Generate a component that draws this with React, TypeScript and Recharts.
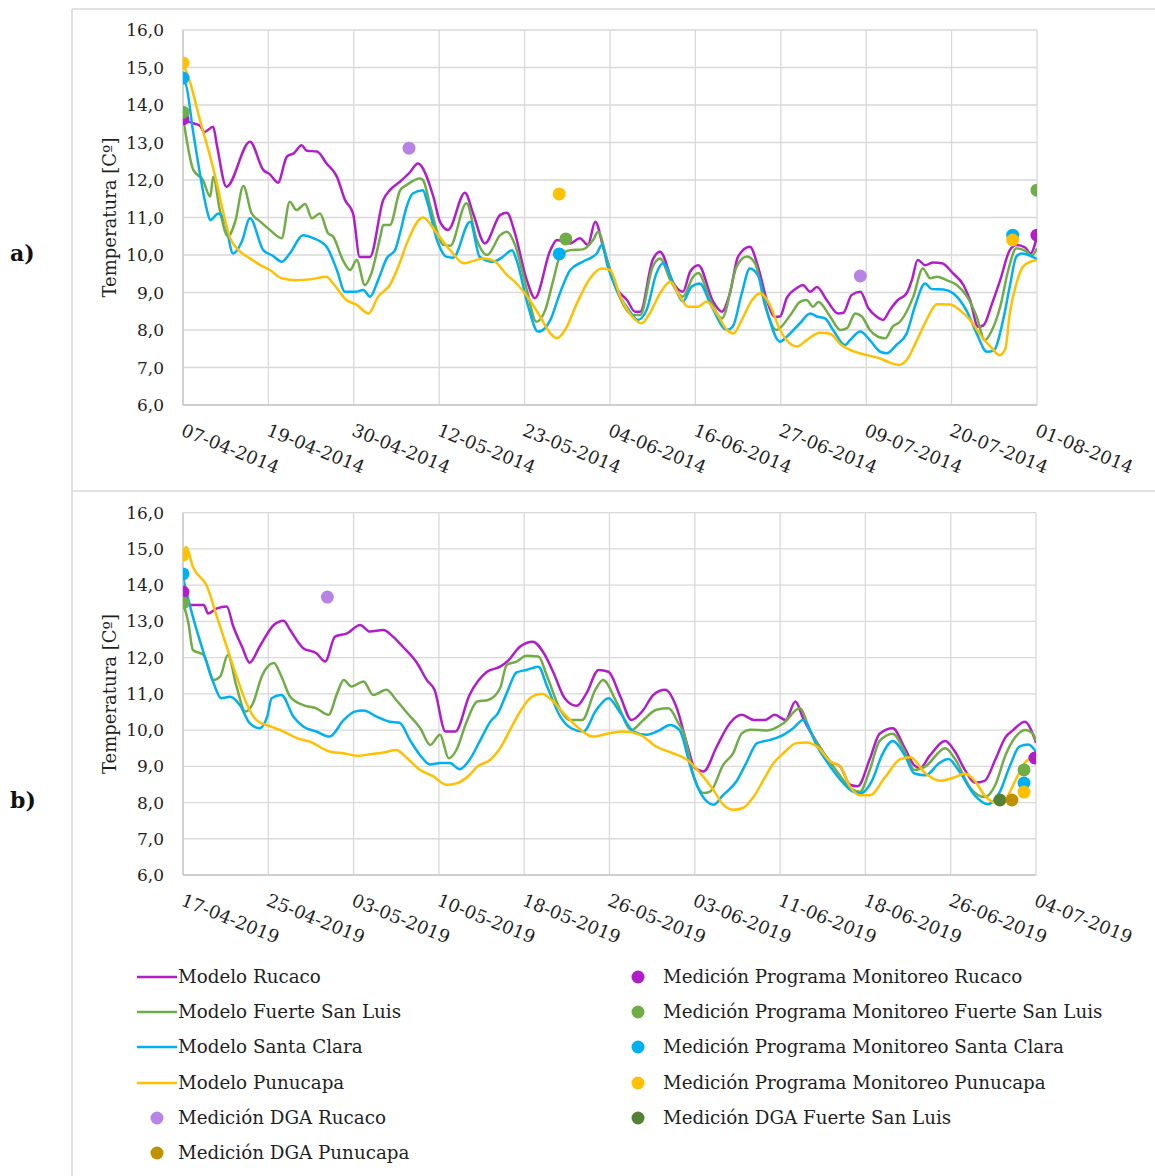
import React from 'react';
import { ComposedChart, Line, Scatter, XAxis, YAxis, CartesianGrid } from 'recharts';

type Pt = [number, number];

const FONT = '"DejaVu Serif", serif';
const INK = '#1f1f1f';

const C_RUCACO = '#B11DCB';
const C_FUERTE = '#70AD47';
const C_CLARA = '#00B0F0';
const C_PUNU = '#FFC000';
const C_DGA_RUCACO = '#B784E6';
const C_DGA_FUERTE = '#548235';
const C_DGA_PUNU = '#BF9000';

const yTicks = [6, 7, 8, 9, 10, 11, 12, 13, 14, 15, 16];

// ---------- a) days since 07-04-2014
const ticksA = [0, 11.6, 23.2, 34.8, 46.4, 58, 69.6, 81.2, 92.8, 104.4, 116];
const tickLabelsA = ['07-04-2014', '19-04-2014', '30-04-2014', '12-05-2014', '23-05-2014', '04-06-2014', '16-06-2014', '27-06-2014', '09-07-2014', '20-07-2014', '01-08-2014'];

const rucacoA: Pt[] = [[0,13.6],[1.6,13.5],[2.3,13.45],[2.9,13.28],[4.1,13.42],[4.6,12.93],[5.9,11.82],[9.1,13.02],[10.9,12.27],[11.8,12.15],[12.9,11.93],[14.1,12.62],[15.1,12.72],[16.1,12.93],[16.8,12.78],[18.2,12.76],[19.5,12.44],[20.9,12.09],[22.0,11.47],[23.1,11.11],[24.0,9.95],[25.4,9.95],[27.2,11.47],[28.1,11.73],[29.5,11.96],[30.8,12.2],[31.9,12.44],[34.0,11.56],[34.9,10.89],[36.0,10.67],[38.3,11.66],[39.4,11.11],[41.0,10.31],[43.1,11.07],[44.0,11.13],[45.1,10.57],[46.7,9.33],[47.8,8.85],[49.9,10.13],[50.8,10.4],[52.6,10.31],[53.9,10.45],[55.0,10.27],[56.0,10.89],[57.1,10.19],[58.9,9.11],[60.3,8.8],[61.4,8.49],[62.1,8.49],[63.8,9.87],[64.8,10.09],[66.6,9.25],[67.9,9.02],[68.9,9.56],[70.0,9.73],[72.0,8.76],[73.2,8.49],[74.3,8.99],[75.4,9.96],[77.0,10.22],[78.1,9.69],[79.3,8.8],[80.4,8.35],[81.1,8.36],[82.0,8.85],[83.4,9.12],[84.2,9.2],[85.2,9.02],[86.1,9.15],[87.5,8.78],[89.0,8.44],[89.7,8.46],[90.8,8.93],[92.0,9.02],[93.1,8.58],[94.2,8.36],[95.1,8.27],[96.0,8.53],[97.1,8.8],[98.3,8.98],[99.0,9.33],[99.8,9.87],[100.8,9.73],[101.9,9.8],[103.1,9.78],[104.6,9.51],[106.0,9.2],[106.9,8.8],[108.0,8.09],[108.7,8.12],[109.9,8.71],[111.0,9.33],[112.3,10.13],[113.2,10.27],[114.4,10.2],[115.1,10.04],[116,10.49]];
const fuerteA: Pt[] = [[0,13.7],[0.5,13.07],[1.4,12.27],[2.7,12.0],[3.7,11.56],[4.1,12.09],[5.0,11.2],[6.1,10.5],[7.1,10.9],[8.2,11.84],[9.3,11.12],[10.5,10.89],[11.8,10.67],[13.4,10.45],[14.5,11.42],[15.4,11.2],[16.6,11.36],[17.5,10.98],[18.6,11.11],[19.7,10.58],[20.4,10.49],[21.7,9.87],[22.7,9.6],[23.6,9.87],[24.7,9.2],[25.6,9.52],[26.8,10.49],[27.2,10.8],[28.1,10.8],[29.5,11.73],[30.4,11.87],[32.2,12.04],[32.6,12.0],[33.6,11.29],[34.6,10.57],[35.3,10.27],[36.3,10.25],[38.5,11.38],[39.9,10.4],[41.3,10.0],[43.1,10.53],[44.0,10.62],[45.1,10.27],[46.7,9.07],[48.0,8.22],[49.2,8.53],[50.3,9.33],[51.2,9.96],[52.6,10.13],[54.3,10.15],[55.7,10.4],[56.4,10.62],[57.6,9.87],[58.9,9.07],[61.1,8.4],[62.1,8.4],[63.8,9.69],[64.8,9.91],[66.2,9.33],[67.9,8.89],[69.3,9.42],[70.0,9.52],[71.6,8.8],[73.2,8.31],[75.2,9.69],[76.6,9.96],[77.7,9.78],[79.1,8.62],[80.6,8.0],[82.5,8.4],[83.8,8.75],[84.7,8.8],[85.6,8.62],[86.3,8.75],[87.9,8.36],[89.3,8.0],[90.2,8.05],[91.3,8.44],[92.2,8.36],[93.3,8.0],[94.4,7.82],[95.4,7.78],[96.4,8.09],[97.4,8.22],[99.2,8.89],[100.5,9.64],[101.5,9.38],[102.4,9.42],[103.7,9.33],[105.1,9.2],[106.5,8.89],[107.8,8.36],[108.9,7.73],[109.9,8.0],[111.0,8.62],[112.1,9.6],[113.2,10.18],[114.6,10.09],[115.3,9.98],[116,10.18]];
const santaClaraA: Pt[] = [[0,14.6],[0.3,14.58],[1.4,13.25],[2.3,12.17],[3.2,11.24],[3.7,10.93],[4.8,11.11],[5.7,10.89],[6.8,10.04],[8.0,10.36],[9.1,10.98],[10.9,10.13],[12.2,9.98],[13.4,9.82],[14.5,10.04],[16.3,10.53],[17.7,10.45],[19.5,10.22],[20.9,9.6],[22.0,9.02],[23.4,9.02],[24.5,9.07],[25.4,8.89],[26.5,9.33],[27.7,9.92],[28.8,10.13],[29.5,10.6],[30.4,11.3],[31.2,11.64],[32.6,11.73],[33.1,11.47],[34.5,10.4],[35.8,9.95],[36.7,9.93],[39.0,10.89],[40.3,9.95],[42.1,9.82],[43.5,9.96],[44.7,10.13],[45.3,9.87],[46.9,8.62],[48.2,7.96],[48.7,7.98],[49.9,8.27],[51.2,8.98],[52.6,9.6],[54.3,9.82],[56.2,10.04],[56.9,10.27],[57.7,9.69],[58.9,9.07],[60.7,8.49],[61.8,8.27],[63.0,8.55],[64.3,9.51],[65.2,9.78],[66.6,9.25],[67.9,8.76],[69.1,9.16],[70.2,9.24],[71.6,8.71],[73.9,8.0],[74.7,8.1],[75.9,8.98],[77.0,9.64],[78.2,9.42],[79.3,8.53],[81.1,7.69],[82.0,7.82],[83.8,8.18],[85.2,8.44],[86.1,8.36],[87.2,8.31],[88.3,8.0],[89.9,7.6],[90.6,7.73],[92.0,7.96],[93.3,7.73],[94.7,7.42],[95.6,7.38],[96.9,7.6],[98.3,7.91],[99.4,8.62],[100.8,9.24],[101.7,9.09],[103.3,9.08],[104.6,8.98],[106.5,8.49],[107.8,7.91],[109.2,7.42],[110.1,7.45],[111.4,8.27],[112.3,9.16],[113.2,9.96],[113.9,10.04],[115.1,9.98],[116,9.89]];
const punucapaA: Pt[] = [[0,15.1],[1.0,14.58],[2.3,13.6],[3.7,12.62],[4.6,11.91],[5.5,11.11],[6.4,10.45],[7.3,10.18],[9.1,9.91],[10.5,9.73],[11.8,9.6],[13.4,9.38],[15.4,9.33],[17.3,9.35],[19.5,9.42],[20.4,9.24],[22.2,8.8],[23.6,8.67],[25.2,8.44],[26.5,8.89],[28.1,9.2],[29.5,9.82],[30.4,10.31],[32.6,11.0],[34.5,10.57],[36.3,10.13],[38.1,9.78],[40.8,9.91],[42.2,9.85],[44.0,9.47],[45.3,9.24],[47.1,8.8],[48.5,8.36],[49.9,7.91],[50.8,7.78],[51.9,8.0],[53.5,8.71],[55.3,9.38],[56.9,9.64],[58.0,9.6],[59.4,8.89],[61.0,8.36],[62.3,8.18],[63.4,8.44],[64.8,8.98],[66.2,9.29],[67.5,8.89],[68.6,8.62],[70.0,8.62],[71.1,8.76],[72.5,8.44],[73.9,8.0],[74.8,7.91],[75.9,8.27],[77.3,8.8],[78.4,8.98],[79.7,8.67],[81.1,8.0],[83.4,7.56],[84.7,7.73],[86.5,7.93],[87.9,7.9],[89.3,7.62],[90.6,7.47],[92.9,7.33],[94.7,7.24],[96.0,7.13],[97.2,7.07],[98.3,7.2],[99.7,7.73],[101.0,8.27],[102.4,8.69],[104.2,8.68],[105.5,8.53],[106.9,8.27],[108.5,7.82],[109.9,7.51],[110.9,7.33],[111.7,7.5],[112.3,8.44],[113.2,9.24],[114.1,9.69],[115.1,9.82],[116,9.87]];

const dgaRucacoA: Pt[] = [[30.7,12.85],[92.0,9.44]];
const pmRucacoA: Pt[] = [[0,13.63],[116,10.53]];
const pmFuerteA: Pt[] = [[0,13.81],[52.0,10.43],[116,11.73]];
const pmClaraA: Pt[] = [[0,14.72],[51.1,10.03],[112.7,10.53]];
const pmPunuA: Pt[] = [[0,15.12],[51.1,11.63],[112.7,10.4]];

// ---------- b) days since 17-04-2019
const ticksB = [0, 7.8, 15.6, 23.4, 31.2, 39, 46.8, 54.6, 62.4, 70.2, 78];
const tickLabelsB = ['17-04-2019', '25-04-2019', '03-05-2019', '10-05-2019', '18-05-2019', '26-05-2019', '03-06-2019', '11-06-2019', '18-06-2019', '26-06-2019', '04-07-2019'];

const rucacoB: Pt[] = [[0,13.45],[1.9,13.45],[2.3,13.22],[3.1,13.36],[4.0,13.41],[4.6,12.86],[5.4,12.3],[6.1,11.86],[7.0,12.3],[8.3,12.9],[9.2,13.02],[9.8,12.76],[11.0,12.26],[12.2,12.12],[13.0,11.89],[13.9,12.58],[15.0,12.67],[16.2,12.9],[17.1,12.72],[18.3,12.76],[19.2,12.58],[20.1,12.3],[21.4,11.85],[22.3,11.38],[23.0,11.11],[24.0,9.96],[24.9,9.96],[26.2,10.97],[27.8,11.61],[29.0,11.75],[29.8,11.94],[30.8,12.3],[32.0,12.44],[33.0,12.12],[33.9,11.57],[34.9,10.88],[36.0,10.67],[36.9,11.02],[38.0,11.66],[38.9,11.61],[40.0,10.92],[41.0,10.28],[42.1,10.56],[43.0,10.97],[44.1,11.11],[45.1,10.65],[46.1,9.6],[46.8,8.95],[47.6,8.86],[48.8,9.54],[50.0,10.19],[51.1,10.42],[52.2,10.28],[53.2,10.28],[54.1,10.42],[55.1,10.28],[56.0,10.79],[56.7,10.33],[58.0,9.64],[59.2,9.13],[60.1,8.99],[61.0,8.49],[61.7,8.45],[62.8,9.2],[63.7,9.9],[64.9,10.05],[66.0,9.5],[66.8,9.05],[67.4,8.95],[68.3,9.3],[69.7,9.7],[70.6,9.4],[71.5,8.9],[72.4,8.55],[73.3,8.6],[74.3,9.2],[75.2,9.8],[75.9,10.0],[77.0,10.23],[77.7,9.9],[78,9.65]];
const fuerteB: Pt[] = [[0,13.5],[0.5,12.95],[0.9,12.21],[1.9,12.07],[2.8,11.38],[3.4,11.48],[4.1,12.07],[4.9,11.2],[5.7,10.51],[6.4,10.74],[7.2,11.48],[8.3,11.85],[9.0,11.48],[9.8,10.92],[11.0,10.69],[12.2,10.6],[13.3,10.42],[14.1,11.02],[14.7,11.38],[15.4,11.2],[16.5,11.34],[17.4,10.97],[18.6,11.11],[19.5,10.83],[20.5,10.47],[21.7,10.05],[22.6,9.59],[23.5,9.87],[24.3,9.22],[25.0,9.45],[25.9,10.2],[26.9,10.79],[27.9,10.83],[29.0,11.16],[29.6,11.8],[30.5,11.89],[31.4,12.05],[32.5,12.03],[33.3,11.48],[34.5,10.56],[35.4,10.28],[36.5,10.28],[37.7,11.11],[38.4,11.38],[39.7,10.74],[41.0,10.0],[42.1,10.28],[43.3,10.56],[44.4,10.6],[45.3,10.19],[45.8,9.91],[46.7,8.72],[47.6,8.26],[48.2,8.3],[49.4,9.04],[50.3,9.36],[51.1,9.91],[51.9,10.01],[53.4,9.99],[54.9,10.19],[56.4,10.6],[57.3,10.01],[58.6,9.36],[59.8,8.86],[61.0,8.4],[61.9,8.3],[62.8,8.9],[63.7,9.7],[64.9,9.9],[66.0,9.4],[66.9,8.9],[67.9,9.0],[69.7,9.5],[70.6,9.2],[72.0,8.4],[73.3,8.15],[74.3,8.5],[75.2,9.3],[76.1,9.8],[77.0,10.0],[77.7,9.9],[78,9.7]];
const santaClaraB: Pt[] = [[0,14.2],[0.9,13.13],[1.9,12.12],[2.8,11.29],[3.5,10.88],[4.3,10.92],[5.2,10.69],[6.1,10.19],[7.0,10.05],[7.7,10.37],[8.1,10.88],[9.0,10.97],[10.1,10.37],[11.0,10.1],[12.2,9.96],[13.4,9.82],[14.7,10.28],[15.7,10.51],[16.5,10.54],[17.7,10.37],[18.9,10.23],[19.8,10.2],[20.8,9.7],[21.7,9.3],[22.6,9.05],[23.5,9.09],[24.4,9.09],[25.3,8.92],[26.2,9.18],[27.2,9.73],[28.1,10.23],[28.8,10.47],[29.6,11.02],[30.5,11.59],[31.4,11.66],[32.5,11.75],[33.3,11.2],[34.5,10.37],[35.5,10.05],[36.6,9.96],[37.8,10.56],[38.9,10.88],[40.0,10.47],[41.2,9.96],[42.4,9.87],[43.6,10.0],[44.5,10.14],[45.4,10.0],[46.4,8.99],[47.1,8.4],[47.9,8.03],[48.5,7.94],[49.4,8.21],[50.6,8.58],[51.5,9.09],[52.5,9.64],[53.7,9.73],[54.9,9.87],[55.8,10.05],[56.7,10.28],[58.0,9.54],[59.2,8.99],[60.4,8.53],[61.0,8.35],[61.9,8.25],[63.0,8.6],[63.9,9.3],[64.9,9.7],[66.0,9.3],[66.9,8.8],[67.9,8.75],[69.2,9.1],[70.0,9.2],[70.9,8.9],[72.4,8.2],[73.6,7.95],[74.7,8.3],[75.6,9.0],[76.5,9.55],[77.3,9.6],[78,9.4]];
const punucapaB: Pt[] = [[0,14.9],[0.3,15.05],[0.9,14.51],[2.2,13.96],[3.1,13.13],[4.0,12.3],[4.9,11.48],[5.8,10.74],[6.7,10.28],[8.0,10.1],[9.2,9.96],[10.4,9.78],[11.6,9.68],[13.4,9.41],[14.7,9.36],[15.9,9.29],[17.1,9.33],[18.3,9.38],[19.5,9.45],[20.5,9.22],[21.7,8.9],[22.9,8.72],[24.1,8.49],[25.0,8.53],[26.2,8.76],[26.9,8.99],[28.1,9.18],[29.0,9.5],[29.9,10.0],[30.8,10.5],[31.9,10.92],[32.8,11.0],[33.7,10.83],[34.8,10.47],[36.0,10.1],[37.5,9.82],[39.0,9.91],[40.3,9.96],[41.8,9.87],[43.3,9.54],[44.8,9.36],[46.1,9.18],[47.3,8.81],[48.5,8.35],[49.4,7.94],[50.3,7.8],[51.2,7.85],[52.2,8.17],[53.1,8.63],[54.0,9.09],[54.9,9.36],[56.1,9.64],[57.0,9.66],[58.0,9.54],[59.2,9.13],[60.1,8.99],[61.0,8.44],[61.9,8.2],[62.8,8.2],[64.2,8.7],[65.6,9.2],[66.5,9.25],[67.9,8.8],[69.2,8.6],[70.6,8.7],[71.5,8.8],[72.4,8.6],[73.3,8.2],[74.3,8.0],[75.2,8.1],[76.1,8.6],[77.0,9.1],[78,9.3]];

const dgaRucacoB: Pt[] = [[13.2,13.67]];
const pmRucacoB: Pt[] = [[0,13.81],[77.9,9.23]];
const pmFuerteB: Pt[] = [[0,13.51],[76.9,8.9]];
const pmClaraB: Pt[] = [[0,14.31],[76.9,8.54]];
const pmPunuB: Pt[] = [[0,14.83],[76.9,8.29]];
const dgaFuerteB: Pt[] = [[74.7,8.07]];
const dgaPunuB: Pt[] = [[75.8,8.07]];

const toRows = (pts: Pt[]) => pts.map(([d, v]) => ({ d, v }));
const fmt = (v: number) => v.toFixed(1).replace('.', ',');

function DateTick(props: any) {
  const { x, y, payload, labels, ticks } = props;
  const i = ticks.findIndex((t: number) => Math.abs(t - payload.value) < 1e-6);
  return (
    <g transform={`translate(${x - 3},${y + 22}) rotate(22)`}>
      <text x={0} y={0} fontFamily={FONT} fontSize={18} fill={INK}>
        {labels[i]}
      </text>
    </g>
  );
}

interface Series { pts: Pt[]; color: string }

function Panel(props: {
  top: number; height: number; plotTop: number; plotBottom: number; plotRight: number;
  maxDay: number; ticks: number[]; labels: string[]; lines: Series[]; dots: Series[];
}) {
  const { top, height, plotTop, plotBottom, plotRight, maxDay, ticks, labels, lines, dots } = props;
  return (
    <div style={{ position: 'absolute', left: 72, top }}>
      <ComposedChart
        width={1083}
        height={height}
        margin={{ top: plotTop - top, right: 1155 - plotRight, left: 41, bottom: top + height - plotBottom - 50 }}
      >
        <CartesianGrid stroke="#d9d9d9" strokeWidth={1.3} />
        <XAxis
          type="number"
          dataKey="d"
          domain={[0, maxDay]}
          ticks={ticks}
          interval={0}
          height={50}
          allowDataOverflow
          tickLine={false}
          axisLine={{ stroke: '#c8c8c8', strokeWidth: 1.3 }}
          tick={(p: any) => <DateTick {...p} labels={labels} ticks={ticks} />}
        />
        <YAxis
          type="number"
          dataKey="v"
          domain={[6, 16]}
          ticks={yTicks}
          interval={0}
          width={70}
          allowDataOverflow
          tickLine={false}
          tickMargin={13}
          axisLine={{ stroke: '#c8c8c8', strokeWidth: 1.3 }}
          tick={{ fontFamily: FONT, fontSize: 17, fill: INK }}
          tickFormatter={fmt}
        />
        {lines.map((s, i) => (
          <Line
            key={'l' + i}
            data={toRows(s.pts)}
            dataKey="v"
            type="monotone"
            stroke={s.color}
            strokeWidth={2.5}
            dot={false}
            activeDot={false}
            isAnimationActive={false}
          />
        ))}
        {dots.map((s, i) => (
          <Scatter
            key={'s' + i}
            data={toRows(s.pts)}
            dataKey="v"
            fill={s.color}
            isAnimationActive={false}
            shape={(p: any) => <circle cx={p.cx} cy={p.cy} r={6.5} fill={s.color} />}
          />
        ))}
      </ComposedChart>
    </div>
  );
}

const legendLeft: { label: string; color: string; kind: 'line' | 'dot' }[] = [
  { label: 'Modelo Rucaco', color: C_RUCACO, kind: 'line' },
  { label: 'Modelo Fuerte San Luis', color: C_FUERTE, kind: 'line' },
  { label: 'Modelo Santa Clara', color: C_CLARA, kind: 'line' },
  { label: 'Modelo Punucapa', color: C_PUNU, kind: 'line' },
  { label: 'Medición DGA Rucaco', color: C_DGA_RUCACO, kind: 'dot' },
  { label: 'Medición DGA Punucapa', color: C_DGA_PUNU, kind: 'dot' },
];
const legendRight: { label: string; color: string }[] = [
  { label: 'Medición Programa Monitoreo Rucaco', color: C_RUCACO },
  { label: 'Medición Programa Monitoreo Fuerte San Luis', color: C_FUERTE },
  { label: 'Medición Programa Monitoreo Santa Clara', color: C_CLARA },
  { label: 'Medición Programa Monitoreo Punucapa', color: C_PUNU },
  { label: 'Medición DGA Fuerte San Luis', color: C_DGA_FUERTE },
];

const ROW0 = 977;
const ROW_STEP = 35.2;

export default function App() {
  const textStyle: React.CSSProperties = { fontFamily: FONT, fontSize: 18.3, color: INK, whiteSpace: 'nowrap', lineHeight: '24px' };
  return (
    <div style={{ position: 'absolute', left: 0, top: 0, width: 1155, height: 1176, background: '#fff', overflow: 'hidden' }}>
      <svg width={1155} height={1176} style={{ position: 'absolute', left: 0, top: 0 }}>
        <line x1={72} y1={9} x2={1155} y2={9} stroke="#d9d9d9" strokeWidth={1.5} />
        <line x1={72} y1={491} x2={1155} y2={491} stroke="#d9d9d9" strokeWidth={1.5} />
        <line x1={72} y1={9} x2={72} y2={1176} stroke="#d9d9d9" strokeWidth={1.5} />
        <text x={10} y={261} fontFamily={FONT} fontSize={22} fontWeight={700} fill="#111">a)</text>
        <text x={10} y={808} fontFamily={FONT} fontSize={22} fontWeight={700} fill="#111">b)</text>
        <text transform="translate(109,217.5) rotate(-90)" textAnchor="middle" dominantBaseline="central" fontFamily={FONT} fontSize={18} fill={INK}>
          Temperatura [Cº]
        </text>
        <text transform="translate(109,694) rotate(-90)" textAnchor="middle" dominantBaseline="central" fontFamily={FONT} fontSize={18} fill={INK}>
          Temperatura [Cº]
        </text>
      </svg>

      <Panel
        top={9}
        height={482}
        plotTop={30}
        plotBottom={405}
        plotRight={1037}
        maxDay={116}
        ticks={ticksA}
        labels={tickLabelsA}
        lines={[
          { pts: rucacoA, color: C_RUCACO },
          { pts: fuerteA, color: C_FUERTE },
          { pts: santaClaraA, color: C_CLARA },
          { pts: punucapaA, color: C_PUNU },
        ]}
        dots={[
          { pts: dgaRucacoA, color: C_DGA_RUCACO },
          { pts: pmRucacoA, color: C_RUCACO },
          { pts: pmFuerteA, color: C_FUERTE },
          { pts: pmClaraA, color: C_CLARA },
          { pts: pmPunuA, color: C_PUNU },
        ]}
      />
      <Panel
        top={491}
        height={459}
        plotTop={512.7}
        plotBottom={875}
        plotRight={1036}
        maxDay={78}
        ticks={ticksB}
        labels={tickLabelsB}
        lines={[
          { pts: rucacoB, color: C_RUCACO },
          { pts: fuerteB, color: C_FUERTE },
          { pts: santaClaraB, color: C_CLARA },
          { pts: punucapaB, color: C_PUNU },
        ]}
        dots={[
          { pts: dgaRucacoB, color: C_DGA_RUCACO },
          { pts: pmRucacoB, color: C_RUCACO },
          { pts: pmFuerteB, color: C_FUERTE },
          { pts: pmClaraB, color: C_CLARA },
          { pts: pmPunuB, color: C_PUNU },
          { pts: dgaFuerteB, color: C_DGA_FUERTE },
          { pts: dgaPunuB, color: C_DGA_PUNU },
        ]}
      />

      {legendLeft.map((it, i) => (
        <div key={'ll' + i} style={{ position: 'absolute', left: 137, top: ROW0 + i * ROW_STEP - 12, height: 24, display: 'flex', alignItems: 'center' }}>
          <svg width={41} height={24}>
            {it.kind === 'line'
              ? <line x1={0} y1={12} x2={40} y2={12} stroke={it.color} strokeWidth={2.6} />
              : <circle cx={20} cy={12} r={6.5} fill={it.color} />}
          </svg>
          <span style={textStyle}>{it.label}</span>
        </div>
      ))}
      {legendRight.map((it, i) => (
        <div key={'lr' + i} style={{ position: 'absolute', left: 630, top: ROW0 + i * ROW_STEP - 12, height: 24, display: 'flex', alignItems: 'center' }}>
          <svg width={33} height={24}>
            <circle cx={8} cy={12} r={6.5} fill={it.color} />
          </svg>
          <span style={textStyle}>{it.label}</span>
        </div>
      ))}
    </div>
  );
}
